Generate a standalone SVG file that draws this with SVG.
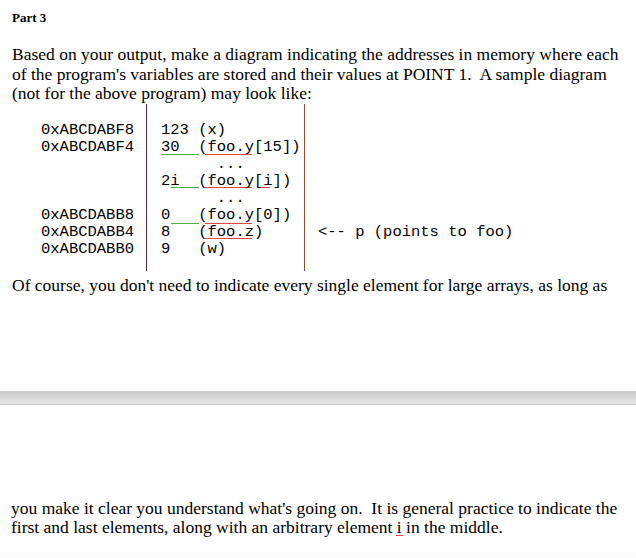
<svg xmlns="http://www.w3.org/2000/svg" width="636" height="558" viewBox="0 0 636 558">
<defs>
<linearGradient id="bar" x1="0" y1="0" x2="0" y2="1">
<stop offset="0" stop-color="#c9c9c9"/>
<stop offset="1" stop-color="#e6e6e6"/>
</linearGradient>
<pattern id="sqg" width="4" height="3" patternUnits="userSpaceOnUse">
<path d="M0 2 L1 1 L2 2 L3 1 L4 2" fill="none" stroke="#3aa83a" stroke-width="0.9"/>
</pattern>
<pattern id="sqr" width="4" height="3" patternUnits="userSpaceOnUse">
<path d="M0 2 L1 1 L2 2 L3 1 L4 2" fill="none" stroke="#e03030" stroke-width="0.9"/>
</pattern>
</defs>
<style>
.serif{font-family:"Liberation Serif","Times New Roman",serif;font-size:17.5px;fill:#000;white-space:pre}
.mono{font-family:"Liberation Mono","Courier New",monospace;font-size:15.5px;fill:#000;white-space:pre}
.bold{font-family:"Liberation Serif","Times New Roman",serif;font-size:13px;font-weight:bold;fill:#000}
</style>
<rect width="636" height="558" fill="#fff"/>
<g id="header">
<text class="bold" x="12" y="22">Part 3</text>
<text class="serif" x="12" y="60">Based on your output, make a diagram indicating the addresses in memory where each</text>
<text class="serif" x="12" y="80">of the program's variables are stored and their values at POINT 1.  A sample diagram</text>
<text class="serif" x="12" y="99">(not for the above program) may look like:</text>
</g>
<g id="connectors">
<line x1="146.5" y1="104" x2="146.5" y2="271" stroke="#5e2550" stroke-width="1"/>
<line x1="304.5" y1="104" x2="304.5" y2="271" stroke="#9a4a2a" stroke-width="1"/>
</g>
<g id="addresses">
<text class="mono" x="41" y="134">0xABCDABF8</text>
<text class="mono" x="41" y="151">0xABCDABF4</text>
<text class="mono" x="41" y="219">0xABCDABB8</text>
<text class="mono" x="41" y="236">0xABCDABB4</text>
<text class="mono" x="41" y="253">0xABCDABB0</text>
</g>
<g id="squiggles">
<rect x="161" y="153" width="38" height="3" fill="url(#sqg)"/>
<rect x="205" y="153" width="47" height="3" fill="url(#sqr)"/>
<rect x="171" y="187" width="28" height="3" fill="url(#sqg)"/>
<rect x="205" y="187" width="47" height="3" fill="url(#sqr)"/>
<rect x="262" y="187" width="8" height="3" fill="url(#sqr)"/>
<rect x="171" y="221" width="28" height="3" fill="url(#sqg)"/>
<rect x="205" y="221" width="47" height="3" fill="url(#sqr)"/>
<rect x="205" y="238" width="47" height="3" fill="url(#sqr)"/>
<rect x="396" y="535" width="7" height="3" fill="url(#sqr)"/>
</g>
<g id="values">
<text class="mono" x="161" y="134">123 (x)</text>
<text class="mono" x="161" y="151">30  (foo.y[15])</text>
<text class="mono" x="161" y="168">      ...</text>
<text class="mono" x="161" y="185">2i  (foo.y[i])</text>
<text class="mono" x="161" y="202">      ...</text>
<text class="mono" x="161" y="219">0   (foo.y[0])</text>
<text class="mono" x="161" y="236">8   (foo.z)</text>
<text class="mono" x="161" y="253">9   (w)</text>
</g>
<g id="pointer">
<text class="mono" x="318" y="236">&lt;-- p (points to foo)</text>
</g>
<g id="footer">
<text class="serif" x="12" y="291">Of course, you don't need to indicate every single element for large arrays, as long as</text>
<rect x="0" y="391" width="636" height="13" fill="url(#bar)"/>
<rect x="0" y="404" width="636" height="1" fill="#c4c4c4"/>
<text class="serif" x="11" y="514">you make it clear you understand what's going on.  It is general practice to indicate the</text>
<text class="serif" x="11" y="533">first and last elements, along with an arbitrary element i in the middle.</text>
<rect x="0" y="552" width="636" height="6" fill="#fafafa"/>
</g>
</svg>
